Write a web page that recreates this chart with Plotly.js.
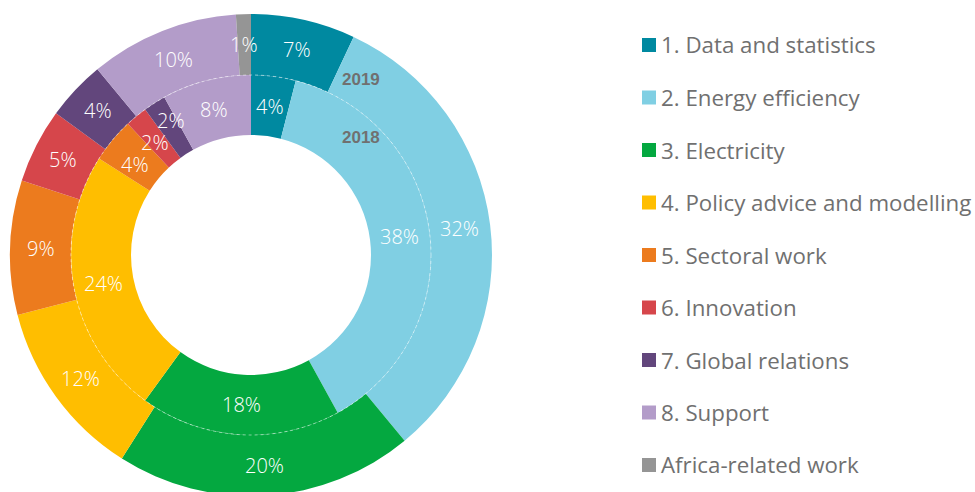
<!DOCTYPE html>
<html>
<head>
<meta charset="utf-8">
<script src="https://cdn.plot.ly/plotly-3.0.1.min.js"></script>
<style>html,body{margin:0;padding:0;overflow:hidden;background:#fff}#chart{width:975px;height:500px}</style>
</head>
<body>
<div id="chart"></div>
<script>
const categories = ["1. Data and statistics","2. Energy efficiency","3. Electricity","4. Policy advice and modelling","5. Sectoral work","6. Innovation","7. Global relations","8. Support","Africa-related work"];
const colors = ["#0089A0","#80CFE3","#04A840","#FFBE00","#EC7B1E","#D6464B","#62467C","#B39CC9","#959595"];
const values2019 = [7, 32, 20, 12, 9, 5, 4, 10, 1];
const values2018 = [4, 38, 18, 24, 4, 2, 2, 8, 0];
const ringLabels = ["2019", "2018"];

const W = 975, H = 500;
const cx = 251, cy = 255, rOuter = 241, rMid = 180, rHole = 120;
const px = x => x / W, py = y => (H - y) / H;

const common = {
  type: "pie", sort: false, direction: "clockwise", rotation: 0,
  labels: categories, marker: {colors: colors, line: {width: 0}},
  textinfo: "none", hoverinfo: "label+value", showlegend: false
};

const outer = Object.assign({}, common, {
  values: values2019, hole: rMid / rOuter,
  domain: {x: [px(cx - rOuter), px(cx + rOuter)], y: [py(cy + rOuter), py(cy - rOuter)]}
});
const inner = Object.assign({}, common, {
  values: values2018, hole: rHole / rMid,
  domain: {x: [px(cx - rMid), px(cx + rMid)], y: [py(cy + rMid), py(cy - rMid)]}
});

const annotations = [];
const shapes = [];

// slice labels at mid-angle, mid-radius of each slice (computed from the data)
function ringText(values, rIn, rOut) {
  const total = values.reduce((a, b) => a + b, 0);
  const r = (rIn + rOut) / 2;
  let cum = 0;
  const pts = [];
  values.forEach(v => {
    if (v > 0) {
      const a = (cum + v / 2) / total * 2 * Math.PI;
      pts.push({x: cx + r * Math.sin(a), y: cy - r * Math.cos(a), t: v + "%"});
    }
    cum += v;
  });
  // relax neighbouring labels of tiny slices apart vertically
  const minDx = 26, minDy = 22;
  for (let it = 0; it < 20; it++) {
    for (let i = 1; i < pts.length; i++) {
      const p = pts[i - 1], q = pts[i];
      const dx = Math.abs(q.x - p.x), dy = q.y - p.y;
      if (dx < minDx && Math.abs(dy) < minDy) {
        const s = (minDy - Math.abs(dy)) / 2 * (dy >= 0 ? 1 : -1);
        p.y -= s; q.y += s;
      }
    }
  }
  pts.forEach(p => annotations.push({xref: "paper", yref: "paper", x: px(p.x), y: py(p.y),
    xanchor: "center", yanchor: "middle", showarrow: false, text: p.t,
    font: {family: "Open Sans, sans-serif", size: 20, weight: 300, color: "#ffffff"}}));
}
ringText(values2019, rMid, rOuter);
ringText(values2018, rHole, rMid);

// faint separator between the rings
shapes.push({type: "circle", xref: "paper", yref: "paper", x0: px(cx - rMid), x1: px(cx + rMid), y0: py(cy + rMid), y1: py(cy - rMid),
  line: {color: "rgba(255,255,255,0.5)", width: 1, dash: "dot"}});

const legendTop = 45, legendStep = 52.5;
categories.forEach((c, i) => {
  const yc = legendTop + i * legendStep;
  shapes.push({type: "rect", xref: "paper", yref: "paper", x0: px(642), x1: px(656), y0: py(yc + 7), y1: py(yc - 7), fillcolor: colors[i], line: {width: 0}});
  annotations.push({xref: "paper", yref: "paper", x: px(659), y: py(yc), xanchor: "left", yanchor: "middle", showarrow: false, text: c, font: {family: "Open Sans, sans-serif", size: 22.3, color: "#707070"}});
});
annotations.push({xref: "paper", yref: "paper", x: px(361), y: py(79), xanchor: "center", yanchor: "middle", showarrow: false, text: "<b>" + ringLabels[0] + "</b>", font: {family: "Liberation Sans, Arial, sans-serif", size: 17, color: "#707070"}});
annotations.push({xref: "paper", yref: "paper", x: px(361), y: py(137), xanchor: "center", yanchor: "middle", showarrow: false, text: "<b>" + ringLabels[1] + "</b>", font: {family: "Liberation Sans, Arial, sans-serif", size: 17, color: "#707070"}});

const layout = {
  width: W, height: H, margin: {l: 0, r: 0, t: 0, b: 0},
  paper_bgcolor: "#ffffff", showlegend: false,
  annotations: annotations, shapes: shapes
};
Plotly.newPlot("chart", [outer, inner], layout, {displayModeBar: false, staticPlot: true});
</script>
</body>
</html>
